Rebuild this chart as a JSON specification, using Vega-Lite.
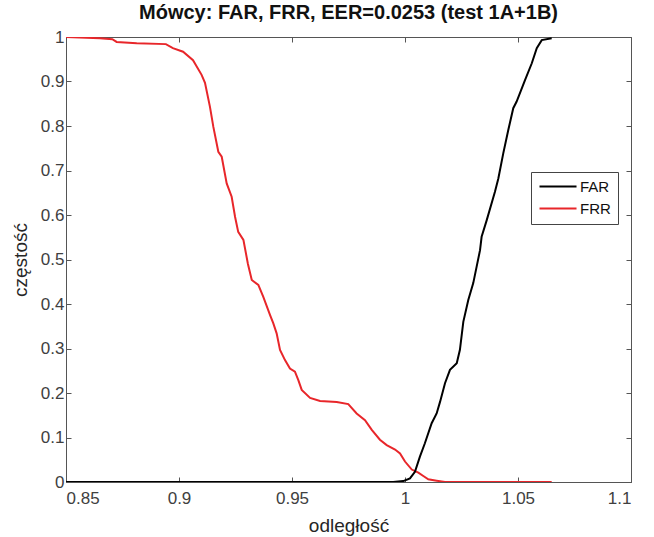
{
  "$schema": "https://vega.github.io/schema/vega-lite/v6.json",
  "width": 565,
  "height": 445,
  "autosize": {"type": "none"},
  "padding": {"left": 66, "top": 37, "right": 23, "bottom": 55},
  "background": "white",
  "title": {
    "text": "Mówcy: FAR, FRR, EER=0.0253 (test 1A+1B)",
    "font": "Liberation Sans",
    "fontSize": 20,
    "fontWeight": "bold",
    "color": "#111",
    "offset": 5
  },
  "config": {
    "view": {"stroke": "#555", "strokeWidth": 1},
    "font": "Liberation Sans",
    "axis": {
      "grid": false,
      "domainColor": "#555",
      "tickColor": "#555",
      "tickSize": -5,
      "labelFont": "Liberation Sans",
      "labelFontSize": 17,
      "labelColor": "#404040",
      "titleFont": "Liberation Sans",
      "titleFontSize": 19,
      "titleFontWeight": "normal",
      "titleColor": "#262626"
    }
  },
  "data": {
    "values": [
      {"x": 0.85, "p": 1.0, "s": "FRR"},
      {"x": 0.865, "p": 0.997, "s": "FRR"},
      {"x": 0.8705, "p": 0.995, "s": "FRR"},
      {"x": 0.8724, "p": 0.989, "s": "FRR"},
      {"x": 0.8813, "p": 0.986, "s": "FRR"},
      {"x": 0.8942, "p": 0.984, "s": "FRR"},
      {"x": 0.8973, "p": 0.975, "s": "FRR"},
      {"x": 0.9018, "p": 0.967, "s": "FRR"},
      {"x": 0.9062, "p": 0.948, "s": "FRR"},
      {"x": 0.91, "p": 0.915, "s": "FRR"},
      {"x": 0.9115, "p": 0.897, "s": "FRR"},
      {"x": 0.9137, "p": 0.843, "s": "FRR"},
      {"x": 0.9152, "p": 0.798, "s": "FRR"},
      {"x": 0.9174, "p": 0.742, "s": "FRR"},
      {"x": 0.9189, "p": 0.731, "s": "FRR"},
      {"x": 0.9211, "p": 0.671, "s": "FRR"},
      {"x": 0.9233, "p": 0.641, "s": "FRR"},
      {"x": 0.9248, "p": 0.596, "s": "FRR"},
      {"x": 0.9262, "p": 0.562, "s": "FRR"},
      {"x": 0.9285, "p": 0.544, "s": "FRR"},
      {"x": 0.9305, "p": 0.49, "s": "FRR"},
      {"x": 0.9322, "p": 0.454, "s": "FRR"},
      {"x": 0.9351, "p": 0.443, "s": "FRR"},
      {"x": 0.9373, "p": 0.416, "s": "FRR"},
      {"x": 0.9403, "p": 0.375, "s": "FRR"},
      {"x": 0.9417, "p": 0.357, "s": "FRR"},
      {"x": 0.9432, "p": 0.334, "s": "FRR"},
      {"x": 0.9447, "p": 0.297, "s": "FRR"},
      {"x": 0.9469, "p": 0.274, "s": "FRR"},
      {"x": 0.9491, "p": 0.255, "s": "FRR"},
      {"x": 0.9513, "p": 0.248, "s": "FRR"},
      {"x": 0.9528, "p": 0.229, "s": "FRR"},
      {"x": 0.9543, "p": 0.207, "s": "FRR"},
      {"x": 0.958, "p": 0.189, "s": "FRR"},
      {"x": 0.9624, "p": 0.182, "s": "FRR"},
      {"x": 0.9698, "p": 0.18, "s": "FRR"},
      {"x": 0.9749, "p": 0.175, "s": "FRR"},
      {"x": 0.9786, "p": 0.154, "s": "FRR"},
      {"x": 0.9823, "p": 0.139, "s": "FRR"},
      {"x": 0.9853, "p": 0.117, "s": "FRR"},
      {"x": 0.9889, "p": 0.095, "s": "FRR"},
      {"x": 0.9919, "p": 0.083, "s": "FRR"},
      {"x": 0.9956, "p": 0.073, "s": "FRR"},
      {"x": 0.9978, "p": 0.064, "s": "FRR"},
      {"x": 1.0, "p": 0.046, "s": "FRR"},
      {"x": 1.003, "p": 0.028, "s": "FRR"},
      {"x": 1.0059, "p": 0.021, "s": "FRR"},
      {"x": 1.0081, "p": 0.0135, "s": "FRR"},
      {"x": 1.0103, "p": 0.006, "s": "FRR"},
      {"x": 1.014, "p": 0.003, "s": "FRR"},
      {"x": 1.0177, "p": 0.0, "s": "FRR"},
      {"x": 1.0649, "p": 0.0, "s": "FRR"},
      {"x": 0.85, "p": 0.0, "s": "FAR"},
      {"x": 0.9948, "p": 0.0, "s": "FAR"},
      {"x": 0.9992, "p": 0.002, "s": "FAR"},
      {"x": 1.0022, "p": 0.008, "s": "FAR"},
      {"x": 1.0044, "p": 0.023, "s": "FAR"},
      {"x": 1.0066, "p": 0.057, "s": "FAR"},
      {"x": 1.0088, "p": 0.087, "s": "FAR"},
      {"x": 1.0118, "p": 0.132, "s": "FAR"},
      {"x": 1.014, "p": 0.154, "s": "FAR"},
      {"x": 1.0155, "p": 0.18, "s": "FAR"},
      {"x": 1.0177, "p": 0.222, "s": "FAR"},
      {"x": 1.0199, "p": 0.252, "s": "FAR"},
      {"x": 1.0229, "p": 0.267, "s": "FAR"},
      {"x": 1.0243, "p": 0.297, "s": "FAR"},
      {"x": 1.0258, "p": 0.36, "s": "FAR"},
      {"x": 1.028, "p": 0.409, "s": "FAR"},
      {"x": 1.0302, "p": 0.447, "s": "FAR"},
      {"x": 1.0317, "p": 0.484, "s": "FAR"},
      {"x": 1.0332, "p": 0.521, "s": "FAR"},
      {"x": 1.0339, "p": 0.551, "s": "FAR"},
      {"x": 1.0362, "p": 0.589, "s": "FAR"},
      {"x": 1.0398, "p": 0.652, "s": "FAR"},
      {"x": 1.0413, "p": 0.682, "s": "FAR"},
      {"x": 1.0435, "p": 0.739, "s": "FAR"},
      {"x": 1.0457, "p": 0.791, "s": "FAR"},
      {"x": 1.0479, "p": 0.84, "s": "FAR"},
      {"x": 1.0494, "p": 0.855, "s": "FAR"},
      {"x": 1.0531, "p": 0.903, "s": "FAR"},
      {"x": 1.0561, "p": 0.941, "s": "FAR"},
      {"x": 1.0583, "p": 0.975, "s": "FAR"},
      {"x": 1.0605, "p": 0.993, "s": "FAR"},
      {"x": 1.0649, "p": 0.997, "s": "FAR"}
    ]
  },
  "layer": [
    {
      "mark": {"type": "line", "strokeWidth": 2, "clip": true},
      "encoding": {
        "x": {
          "field": "x", "type": "quantitative",
          "scale": {"domain": [0.85, 1.1], "nice": false, "zero": false},
          "axis": {"title": "odległość", "values": [0.85, 0.9, 0.95, 1, 1.05, 1.1], "format": "~g", "labelPadding": 13, "titlePadding": 10}
        },
        "y": {
          "field": "p", "type": "quantitative",
          "scale": {"domain": [0, 1], "nice": false},
          "axis": {"title": "częstość", "values": [0, 0.1, 0.2, 0.3, 0.4, 0.5, 0.6, 0.7, 0.8, 0.9, 1], "format": "~g", "labelPadding": 7, "titlePadding": 10}
        },
        "color": {
          "field": "s", "type": "nominal",
          "scale": {"domain": ["FAR", "FRR"], "range": ["#000000", "#e8262a"]},
          "legend": {
            "title": null,
            "orient": "none",
            "legendX": 465,
            "legendY": 135,
            "symbolType": "M-1,0H5.17",
            "symbolSize": 144,
            "symbolStrokeWidth": 2,
            "symbolFillColor": "transparent",
            "labelFontSize": 15,
            "labelOffset": 27,
            "labelColor": "#111",
            "labelFont": "Liberation Sans",
            "strokeColor": "#444",
            "fillColor": "white",
            "padding": 7,
            "rowPadding": 6
          }
        }
      }
    },
    {
      "mark": {"type": "line", "opacity": 0},
      "encoding": {
        "x": {"field": "x", "type": "quantitative", "axis": {"orient": "top", "title": null, "labels": false, "domain": false, "values": [0.85, 0.9, 0.95, 1, 1.05, 1.1]}},
        "y": {"field": "p", "type": "quantitative", "axis": {"orient": "right", "title": null, "labels": false, "domain": false, "values": [0, 0.1, 0.2, 0.3, 0.4, 0.5, 0.6, 0.7, 0.8, 0.9, 1]}}
      }
    }
  ],
  "resolve": {"axis": {"x": "independent", "y": "independent"}}
}
